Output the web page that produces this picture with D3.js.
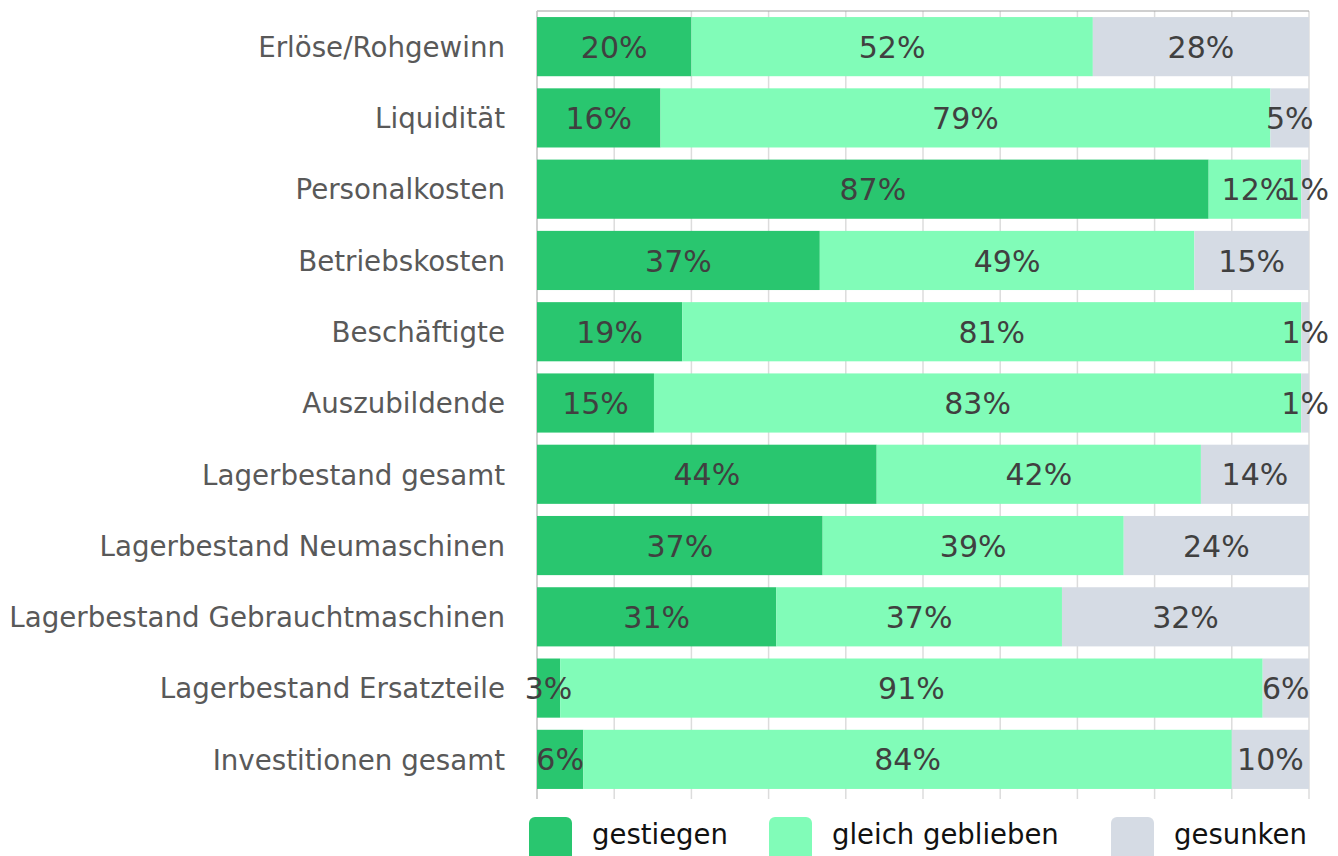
<!DOCTYPE html>
<html><head><meta charset="utf-8">
<script src="https://cdn.jsdelivr.net/npm/d3@7"></script>
<style>body{margin:0;background:#fff;} svg{display:block;font-family:"DejaVu Sans",sans-serif;}</style>
</head><body>
<svg id="chart" width="1338" height="856"></svg>
<script>
const categories = ["Erlöse/Rohgewinn","Liquidität","Personalkosten","Betriebskosten","Beschäftigte","Auszubildende","Lagerbestand gesamt","Lagerbestand Neumaschinen","Lagerbestand Gebrauchtmaschinen","Lagerbestand Ersatzteile","Investitionen gesamt"];
const seriesNames = ["gestiegen","gleich geblieben","gesunken"];
const gestiegen = [20,16,87,37,19,15,44,37,31,3,6];
const gleich = [52,79,12,49,81,83,42,39,37,91,84];
const gesunken = [28,5,1,15,1,1,14,24,32,6,10];
const colors = ["#29c66f","#81fcb8","#d5dbe4"];
const xTicks = [0,0.1,0.2,0.3,0.4,0.5,0.6,0.7,0.8,0.9,1];

(function(){
const rows = categories.map((c,i)=>({cat:c, "gestiegen":gestiegen[i], "gleich geblieben":gleich[i], "gesunken":gesunken[i]}));
const stack = d3.stack().keys(seriesNames).offset(d3.stackOffsetExpand);
const stacked = stack(rows);

const svg = d3.select("#chart");
const pL = 537, pR = 1309, pT = 11, pB = 795;
const x = d3.scaleLinear().domain([0,1]).range([pL,pR]);
const y = d3.scaleBand().domain(categories).range([pT,pB]).paddingInner(0.17).paddingOuter(0.085);

svg.append("g").selectAll("line").data(xTicks).join("line")
  .attr("x1",d=>x(d)).attr("x2",d=>x(d)).attr("y1",pT).attr("y2",pB+4)
  .attr("stroke","#dcdcdc").attr("stroke-width",1.5);
svg.append("line").attr("x1",pL).attr("x2",pR).attr("y1",pT).attr("y2",pT).attr("stroke","#a0a0a0").attr("stroke-width",1.2);
svg.append("line").attr("x1",pL).attr("x2",pL).attr("y1",pT).attr("y2",pB+4).attr("stroke","#c8c8c8").attr("stroke-width",1.5);

const g = svg.append("g");
stacked.forEach((s,si)=>{
  g.append("g").selectAll("rect").data(s).join("rect")
    .attr("x",d=>x(d[0])).attr("width",d=>x(d[1])-x(d[0]))
    .attr("y",d=>y(d.data.cat)).attr("height",y.bandwidth())
    .attr("fill",colors[si]);
});
stacked.forEach((s,si)=>{
  g.append("g").selectAll("text").data(s).join("text")
    .attr("x",d=>(x(d[0])+x(d[1]))/2).attr("y",d=>y(d.data.cat)+y.bandwidth()/2)
    .attr("dy","0.37em").attr("text-anchor","middle")
    .attr("font-size",30).attr("fill","#404040")
    .text(d=>d.data[s.key]+"%");
});

const yAxis = d3.axisLeft(y).tickSize(0).tickPadding(32);
const ya = svg.append("g").attr("transform",`translate(${pL},0)`).call(yAxis);
ya.select(".domain").remove();
ya.selectAll("text").attr("font-size",27.7).attr("fill","#595959").attr("font-family","DejaVu Sans, sans-serif").attr("dy","0.37em");

const legendX = [529,769,1111];
const lg = svg.append("g");
seriesNames.forEach((n,i)=>{
  lg.append("rect").attr("x",legendX[i]).attr("y",817).attr("width",43).attr("height",50).attr("rx",6).attr("fill",colors[i]);
  lg.append("text").attr("x",legendX[i]+63).attr("y",844).attr("font-size",27.5).attr("fill","#111").text(n);
});
})();
</script>
</body></html>
